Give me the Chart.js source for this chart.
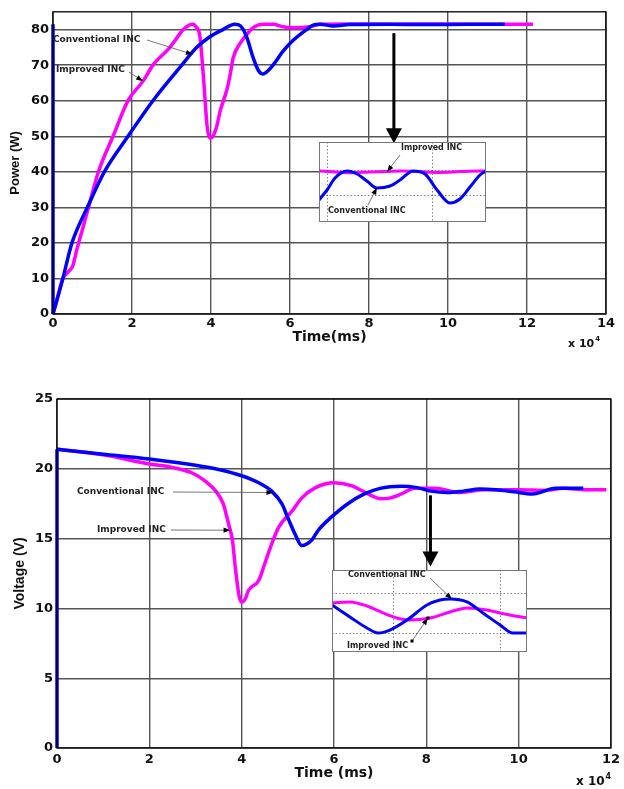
<!DOCTYPE html>
<html>
<head>
<meta charset="utf-8">
<script src="https://cdn.jsdelivr.net/npm/chart.js@4"></script>
<style>
html, body { margin: 0; padding: 0; background: #fff; }
#wrap { position: relative; width: 624px; height: 789px; }
.box { position: absolute; }
canvas { display: block; }
</style>
</head>
<body>
<div id="wrap">
    <div class="box" style="left:0;top:0"><canvas id="powerChart" width="624" height="360"></canvas></div>
    <div class="box" style="left:0;top:380px"><canvas id="voltChart" width="624" height="409"></canvas></div>
    <div class="box" style="left:319px;top:142px"><canvas id="powerZoom" width="167" height="80"></canvas></div>
    <div class="box" style="left:332px;top:570px"><canvas id="voltZoom" width="195" height="82"></canvas></div>
</div>

<script>
/* ================= DATA (time in x10^4 ms) ================= */

const powerTimeConv = [0, 0, 0.25, 0.48, 0.87, 1.3, 1.9, 2.53, 3.26, 3.64, 3.97, 4.3, 4.6, 4.75, 4.9, 5.07, 5.2, 5.32, 5.45, 5.57, 5.83, 6.08, 6.42, 6.6, 6.76, 7.1, 7.5, 8.5, 9.5, 10.5, 11.44];
const powerConv     = [81.5, 0, 10, 20, 30, 40, 50, 60, 70, 75, 78, 80, 81.5, 81, 78, 72, 68.5, 67.5, 68.5, 70, 74, 77, 80, 81.3, 81.5, 81, 81.4, 81.5, 81.4, 81.5, 81.5];

const powerTimeImp = [0, 0.1, 0.25, 0.4, 0.5, 0.6, 0.75, 0.9, 1.15, 1.52, 1.9, 2.28, 2.53, 2.96, 3.3, 3.45, 3.54, 3.62, 3.72, 3.82, 3.9, 3.97, 4.05, 4.15, 4.23, 4.4, 4.48, 4.56, 4.73, 4.9, 5.06, 5.32, 5.57, 5.82, 6.08, 6.5, 6.76, 7.5, 8.5, 9.5, 10.5, 11.5, 12.15];
const powerImp     = [0, 4, 10, 12, 13.5, 18, 24, 30, 40, 50, 60, 65.5, 70, 75, 80, 81.3, 81.5, 80.8, 78, 65, 53, 49.5, 50, 53, 57, 63, 67, 72, 76, 78.5, 80.5, 81.5, 81.5, 80.8, 80.5, 80.8, 81.5, 81.6, 81.5, 81.6, 81.5, 81.5, 81.5];

const voltTimeConv = [0, 0, 1, 2, 3, 3.5, 4, 4.37, 4.65, 4.87, 5.0, 5.16, 5.3, 5.52, 5.66, 5.93, 6.3, 6.66, 7.0, 7.46, 7.8, 8.1, 8.45, 8.8, 9.16, 9.5, 9.9, 10.3, 10.8, 11.4];
const voltConv     = [0, 21.4, 21.05, 20.7, 20.25, 19.95, 19.5, 19, 18.4, 17.5, 16.5, 15.3, 14.5, 14.9, 15.6, 16.5, 17.5, 18.2, 18.6, 18.75, 18.65, 18.4, 18.3, 18.4, 18.55, 18.5, 18.35, 18.2, 18.6, 18.6];

const voltTimeImp = [0, 1, 2, 2.5, 2.93, 3.22, 3.44, 3.6, 3.72, 3.8, 3.87, 3.95, 4.0, 4.08, 4.15, 4.37, 4.5, 4.65, 4.8, 5.1, 5.3, 5.6, 6.0, 6.37, 6.8, 7.0, 7.2, 7.46, 7.74, 8.17, 8.75, 9.25, 10.0, 10.6, 10.97, 11.45, 11.9];
const voltImp     = [21.4, 21.0, 20.35, 20.1, 19.7, 19.1, 18.4, 17.5, 16, 14.9, 12.7, 10.8, 10.45, 10.7, 11.3, 12, 13.2, 14.6, 15.8, 17, 17.9, 18.65, 19.0, 18.8, 18.1, 17.85, 17.9, 18.2, 18.6, 18.6, 18.3, 18.5, 18.5, 18.45, 18.6, 18.5, 18.5];

// zoomed insets (relative units 0-100)
const pzTimeConv = [0, 4.8, 9.6, 16.8, 22.8, 28.7, 34.7, 42.5, 48.5, 56.3, 63.5, 70.7, 78.4, 84.4, 90.4, 96.4, 100];
const pzConv     = [27.5, 40, 55, 63.75, 60, 51.25, 42.5, 45, 52.5, 63.75, 60, 40, 23.75, 28.75, 43.75, 58.75, 63.75];
const pzTimeImp  = [0, 10, 20, 30, 40, 50, 60, 70, 80, 90, 100];
const pzImp      = [63.75, 62.5, 61.5, 62.5, 63, 63.75, 63, 62, 62.5, 63.5, 63.75];

const vzTimeConv = [0, 9.2, 17.9, 23.6, 29.7, 38.5, 48.7, 55.4, 60.5, 69.2, 77.4, 86.2, 92.8, 100];
const vzConv     = [57.3, 42.7, 29.3, 23.2, 26.8, 39, 57.3, 63.4, 64.6, 61, 47.6, 32.9, 23.2, 23.2];
const vzTimeImp  = [0, 9.2, 17.9, 26.2, 33.3, 40, 50.3, 60.5, 69.2, 79.5, 86.2, 93.8, 100];
const vzImp      = [59.8, 61, 56.1, 47.6, 41.5, 39, 41.5, 48.8, 53.7, 51.2, 47.6, 43.9, 41.5];

// tick labels
const powerXTicks = [0, 2, 4, 6, 8, 10, 12, 14];
const powerYTicks = [0, 10, 20, 30, 40, 50, 60, 70, 80];
const voltXTicks  = [0, 2, 4, 6, 8, 10, 12];
const voltYTicks  = [0, 5, 10, 15, 20, 25];

const pzGridX = [4.8, 67.7];
const pzGridY = [33.75, 65];
const vzGridX = [31.3, 86.2];
const vzGridY = [23, 72];


/* ================= HELPERS ================= */

const BLUE = '#0000ff';
const PINK = '#ff00ff';
const TICK_FONT = { family: '"DejaVu Sans", sans-serif', size: 13, weight: 'bold' };

function xy(xs, ys) {
    return xs.map((x, i) => ({ x: x, y: ys[i] }));
}

function head(ctx, x0, y0, x1, y1, len, half) {
    const a = Math.atan2(y1 - y0, x1 - x0);
    const c = Math.cos(a), s = Math.sin(a);
    ctx.beginPath();
    ctx.moveTo(x1, y1);
    ctx.lineTo(x1 - len * c + half * s, y1 - len * s - half * c);
    ctx.lineTo(x1 - len * c - half * s, y1 - len * s + half * c);
    ctx.closePath();
    ctx.fill();
}

// label + thin arrow pointing at a data position
function note(ctx, n, tipX, tipY) {
    ctx.save();
    ctx.font = 'bold ' + n.size + 'px "DejaVu Sans", sans-serif';
    ctx.fillStyle = '#222';
    ctx.textBaseline = 'middle';
    ctx.fillText(n.text, n.tx, n.ty);
    ctx.strokeStyle = '#555';
    ctx.lineWidth = 0.8;
    ctx.beginPath();
    ctx.moveTo(n.fx, n.fy);
    ctx.lineTo(tipX, tipY);
    ctx.stroke();
    ctx.fillStyle = '#000';
    head(ctx, n.fx, n.fy, tipX, tipY, 7, 2.6);
    if (n.marks) {
        ctx.fillRect(n.fx - 1.5, n.fy - 1.5, 3, 3);
        ctx.fillRect(tipX - 1.5, tipY - 1.5, 3, 3);
    }
    ctx.restore();
}

function lineSet(label, data, color, width) {
    return {
        label: label,
        data: data,
        borderColor: color,
        borderWidth: width,
        pointRadius: 0,
        cubicInterpolationMode: 'monotone',
        fill: false,
        clip: 5
    };
}

// a trace that starts with a jump at t=0 is drawn as the jump + the rest,
// so the smoothing doesn't bend the start of the curve
function traceSets(label, xs, ys, color, width) {
    const pts = xy(xs, ys);
    if (pts.length > 2 && pts[0].x === pts[1].x) {
        return [
            lineSet(label, pts.slice(1), color, width),
            lineSet(label, pts.slice(0, 2), color, width)
        ];
    }
    return [lineSet(label, pts, color, width)];
}


/* ================= MAIN CHARTS ================= */

function mainChart(id, o) {

    const decor = {
        id: 'decor',
        afterDatasetsDraw(chart) {
            const ctx = chart.ctx;
            const a = chart.chartArea;
            const xs = chart.scales.x, ys = chart.scales.y;

            // box
            ctx.save();
            ctx.strokeStyle = '#000';
            ctx.lineWidth = 1.3;
            ctx.strokeRect(a.left, a.top, a.right - a.left, a.bottom - a.top);
            ctx.restore();

            // notes
            o.notes.forEach(n => note(ctx, n, xs.getPixelForValue(n.at[0]), ys.getPixelForValue(n.at[1])));

            // big arrow to the zoomed region
            const bx = xs.getPixelForValue(o.bigArrow[0]);
            const by0 = ys.getPixelForValue(o.bigArrow[1]);
            const by1 = ys.getPixelForValue(o.bigArrow[2]);
            ctx.save();
            ctx.strokeStyle = '#000';
            ctx.fillStyle = '#000';
            ctx.lineWidth = 3;
            ctx.beginPath();
            ctx.moveTo(bx, by0);
            ctx.lineTo(bx, by1 - 12);
            ctx.stroke();
            head(ctx, bx, by0, bx, by1, 15, 8);
            ctx.restore();

            // x 10^4
            ctx.save();
            ctx.fillStyle = '#111';
            ctx.textBaseline = 'alphabetic';
            ctx.font = 'bold ' + o.expSize + 'px "DejaVu Sans", sans-serif';
            ctx.fillText('x 10', o.expX, o.expY);
            const w = ctx.measureText('x 10').width;
            ctx.font = 'bold ' + (o.expSize - 4) + 'px "DejaVu Sans", sans-serif';
            ctx.fillText('4', o.expX + w + 1, o.expY - 6);
            ctx.restore();
        }
    };

    return new Chart(document.getElementById(id), {

        type: 'line',

        data: {
            datasets: [
                ...traceSets('Conventional INC', o.tConv, o.conv, BLUE, 3.5),
                ...traceSets('Improved INC', o.tImp, o.imp, PINK, 3.5)
            ]
        },

        options: {
            responsive: false,
            animation: false,
            layout: { padding: o.pad },
            plugins: {
                legend: { display: false },
                tooltip: { enabled: false }
            },
            scales: {
                x: {
                    type: 'linear',
                    min: o.xMin,
                    max: o.xMax,
                    afterBuildTicks: s => { s.ticks = o.xTicks.map(v => ({ value: v })); },
                    afterFit: s => { s.height = o.xH; },
                    grid: { color: '#555', lineWidth: 1.4, drawTicks: false },
                    border: { display: false },
                    ticks: { font: TICK_FONT, color: '#111', padding: o.xPad, maxRotation: 0 },
                    title: {
                        display: true,
                        text: o.xTitle,
                        color: '#111',
                        font: { family: '"DejaVu Sans", sans-serif', size: 14, weight: 'bold', lineHeight: 1.2 },
                        padding: { top: 0, bottom: o.xTitlePad }
                    }
                },
                y: {
                    min: o.yMin,
                    max: o.yMax,
                    afterBuildTicks: s => { s.ticks = o.yTicks.map(v => ({ value: v })); },
                    afterFit: s => { s.width = o.yW; },
                    grid: { color: '#555', lineWidth: 1.4, drawTicks: false },
                    border: { display: false },
                    ticks: { font: TICK_FONT, color: '#111', padding: 4 },
                    title: {
                        display: true,
                        text: o.yTitle,
                        color: '#111',
                        font: { family: '"Liberation Sans", Arial, sans-serif', size: o.yTitleSize, weight: 'bold', lineHeight: 1.2 },
                        padding: { top: o.yTitlePad, bottom: 0 }
                    }
                }
            }
        },

        plugins: [decor]
    });
}

mainChart('powerChart', {
    tConv: powerTimeConv, conv: powerConv,
    tImp: powerTimeImp, imp: powerImp,
    xMin: 0, xMax: 14, yMin: 0, yMax: 85,
    xTicks: powerXTicks, yTicks: powerYTicks,
    pad: { left: 0, right: 18, top: 8, bottom: 0 },
    xH: 46, yW: 53, xPad: 2,
    xTitle: 'Time(ms)', xTitlePad: 14.6,
    yTitle: 'Power (W)', yTitleSize: 13, yTitlePad: 7.7,
    expX: 568, expY: 347, expSize: 11,
    bigArrow: [8.63, 79, 48],
    notes: [
        { text: 'Conventional INC', size: 9, tx: 53, ty: 40, fx: 147, fy: 40, at: [3.54, 73] },
        { text: 'Improved INC', size: 9, tx: 56, ty: 70, fx: 129, fy: 72, at: [2.28, 65.5] }
    ]
});

mainChart('voltChart', {
    tConv: voltTimeConv, conv: voltConv,
    tImp: voltTimeImp, imp: voltImp,
    xMin: 0, xMax: 12, yMin: 0, yMax: 25,
    xTicks: voltXTicks, yTicks: voltYTicks,
    pad: { left: 0, right: 9, top: 19, bottom: 0 },
    xH: 41, yW: 57, xPad: 4,
    xTitle: 'Time (ms)', xTitlePad: 7.6,
    yTitle: 'Voltage (V)', yTitleSize: 14, yTitlePad: 11.6,
    expX: 576, expY: 405, expSize: 12,
    bigArrow: [8.09, 18.1, 13.0],
    notes: [
        { text: 'Conventional INC', size: 9, tx: 77, ty: 112, fx: 173, fy: 112, at: [4.69, 18.3] },
        { text: 'Improved INC', size: 9, tx: 97, ty: 150, fx: 171, fy: 150, at: [3.76, 15.6] }
    ]
});


/* ================= ZOOM INSETS ================= */

function zoomChart(id, o) {

    const zoomDecor = {
        id: 'zoomDecor',
        beforeDatasetsDraw(chart) {
            const ctx = chart.ctx;
            const xs = chart.scales.x, ys = chart.scales.y;
            const w = chart.width, h = chart.height;
            ctx.save();
            ctx.fillStyle = '#fff';
            ctx.fillRect(0, 0, w, h);
            ctx.strokeStyle = '#666';
            ctx.lineWidth = 0.8;
            ctx.setLineDash([1.5, 2]);
            o.gridX.forEach(v => {
                const px = Math.round(xs.getPixelForValue(v)) + 0.5;
                ctx.beginPath(); ctx.moveTo(px, 0); ctx.lineTo(px, h); ctx.stroke();
            });
            o.gridY.forEach(v => {
                const py = Math.round(ys.getPixelForValue(v)) + 0.5;
                ctx.beginPath(); ctx.moveTo(0, py); ctx.lineTo(w, py); ctx.stroke();
            });
            ctx.restore();
        },
        afterDatasetsDraw(chart) {
            const ctx = chart.ctx;
            const xs = chart.scales.x, ys = chart.scales.y;
            ctx.save();
            ctx.strokeStyle = '#777';
            ctx.lineWidth = 1;
            ctx.strokeRect(0.5, 0.5, chart.width - 1, chart.height - 1);
            ctx.restore();
            o.notes.forEach(n => note(ctx, n, xs.getPixelForValue(n.at[0]), ys.getPixelForValue(n.at[1])));
        }
    };

    return new Chart(document.getElementById(id), {
        type: 'line',
        data: {
            datasets: [
                lineSet('Conventional INC', xy(o.tConv, o.conv), BLUE, 3),
                lineSet('Improved INC', xy(o.tImp, o.imp), PINK, 3)
            ]
        },
        options: {
            responsive: false,
            animation: false,
            layout: { padding: 0 },
            plugins: {
                legend: { display: false },
                tooltip: { enabled: false }
            },
            scales: {
                x: { type: 'linear', min: 0, max: 100, display: false },
                y: { min: 0, max: 100, display: false }
            }
        },
        plugins: [zoomDecor]
    });
}

zoomChart('powerZoom', {
    tConv: pzTimeConv, conv: pzConv,
    tImp: pzTimeImp, imp: pzImp,
    gridX: pzGridX, gridY: pzGridY,
    notes: [
        { text: 'Improved INC', size: 8, tx: 82, ty: 6, fx: 81, fy: 13, at: [40.7, 62.6] },
        { text: 'Conventional INC', size: 8, tx: 9, ty: 69, fx: 49, fy: 63, at: [34.7, 43] }
    ]
});

zoomChart('voltZoom', {
    tConv: vzTimeConv, conv: vzConv,
    tImp: vzTimeImp, imp: vzImp,
    gridX: vzGridX, gridY: vzGridY,
    notes: [
        { text: 'Conventional INC', size: 8, tx: 16, ty: 5, fx: 98, fy: 8, at: [61.5, 64.5] },
        { text: 'Improved INC', size: 8, tx: 15, ty: 76, fx: 80, fy: 71, at: [49.2, 41.5], marks: true }
    ]
});
</script>
</body>
</html>
